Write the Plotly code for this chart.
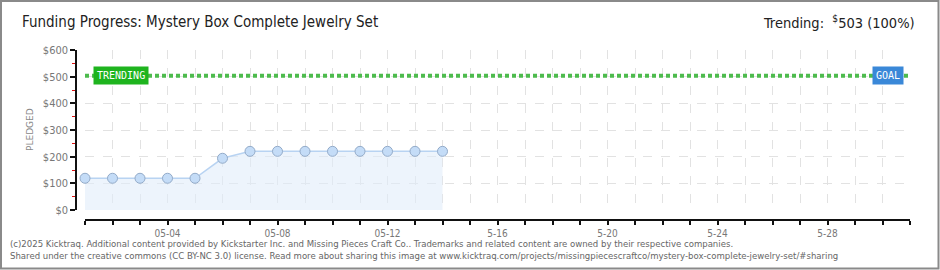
import plotly.graph_objects as go

# ---- data ----
dates = ["2025-05-01", "2025-05-02", "2025-05-03", "2025-05-04", "2025-05-05",
         "2025-05-06", "2025-05-07", "2025-05-08", "2025-05-09", "2025-05-10",
         "2025-05-11", "2025-05-12", "2025-05-13", "2025-05-14"]
pledged = [119, 119, 119, 119, 119, 194, 220, 220, 220, 220, 220, 220, 220, 220]

goal_dates = ["2025-05-01", "2025-05-31"]
goal_values = [503, 503]

tick_dates = ["2025-05-04", "2025-05-08", "2025-05-12", "2025-05-16",
              "2025-05-20", "2025-05-24", "2025-05-28"]
tick_labels = ["05-04", "05-08", "05-12", "5-16", "5-20", "5-24", "5-28"]

y_ticks = [0, 100, 200, 300, 400, 500, 600]
y_labels = ["$0", "$100", "$200", "$300", "$400", "$500", "$600"]

title_text = "Funding Progress: Mystery Box Complete Jewelry Set"
trend_text = "Trending:  <sup>$</sup>503 (100%)"
footer1 = ("(c)2025 Kicktraq. Additional content provided by Kickstarter Inc. and Missing Pieces Craft Co.. "
           "Trademarks and related content are owned by their respective companies.")
footer2 = ("Shared under the creative commons (CC BY-NC 3.0) license. Read more about sharing this image at "
           "www.kicktraq.com/projects/missingpiecescraftco/mystery-box-complete-jewelry-set/#sharing")

# ---- geometry helpers (pixel -> paper) ----
W, H = 940, 270
L, R, T, B = 76, 30, 50, 50
PW, PH = W - L - R, H - T - B


def px(x):
    return (x - L) / PW


def py(y):
    return (H - B - y) / PH


FONT = "DejaVu Sans Condensed, DejaVu Sans, sans-serif"
GRID = "#e2e2e2"

fig = go.Figure()

fig.add_trace(go.Scatter(
    x=dates, y=pledged, mode="lines+markers",
    fill="tozeroy", fillcolor="rgba(225,236,250,0.6)",
    line=dict(color="#b8d3f2", width=1.5),
    marker=dict(size=10, color="#c4dcf7", line=dict(color="#93abc9", width=1)),
    cliponaxis=False, hoverinfo="skip", showlegend=False,
))

fig.add_trace(go.Scatter(
    x=goal_dates, y=goal_values, mode="lines",
    line=dict(color="#4dbb4d", width=4, dash="4px,3px"),
    hoverinfo="skip", showlegend=False, cliponaxis=False,
))

fig.update_layout(
    width=W, height=H,
    margin=dict(l=L, r=R, t=T, b=B),
    paper_bgcolor="white", plot_bgcolor="white",
    font=dict(family=FONT, color="#777"),
    xaxis=dict(
        type="date",
        domain=[9 / PW, 1],
        range=["2025-05-01", "2025-05-31"],
        anchor="free", position=0,
        showline=True, linecolor="#111", linewidth=1.5,
        tickvals=tick_dates, ticktext=tick_labels,
        ticks="outside", ticklen=4, tickcolor="#111", tickwidth=1.5,
        tickfont=dict(size=10, color="#777", family=FONT),
        showgrid=True, gridcolor=GRID, griddash="dash", gridwidth=1,
        minor=dict(tick0="2025-05-01", dtick=86400000, ticks="outside", ticklen=4,
                   tickcolor="#111", tickwidth=1.5,
                   showgrid=True, gridcolor=GRID, griddash="dash", gridwidth=1),
        zeroline=False, fixedrange=True,
    ),
    yaxis=dict(
        domain=[10 / PH, 1],
        range=[0, 600],
        anchor="free", position=0,
        showline=True, linecolor="#111", linewidth=1.5,
        tickvals=y_ticks, ticktext=y_labels,
        ticks="outside", ticklen=5, tickcolor="#111", tickwidth=1.5,
        tickfont=dict(size=11, color="#777", family=FONT),
        showgrid=True, gridcolor=GRID, griddash="dash", gridwidth=1,
        minor=dict(tick0=50, dtick=100, ticks="outside", ticklen=3,
                   tickcolor="#e01010", tickwidth=1, showgrid=False),
        zeroline=False, fixedrange=True,
    ),
)

FOOT_FONT = FONT
ann = []
ann.append(dict(text=title_text, xref="paper", yref="paper", x=px(20), y=py(22),
                xanchor="left", yanchor="middle", showarrow=False,
                font=dict(size=15, color="#222", family=FONT)))
ann.append(dict(text=trend_text, xref="paper", yref="paper", x=px(917), y=py(22),
                xanchor="right", yanchor="middle", showarrow=False,
                font=dict(size=14.5, color="#222", family=FONT)))
ann.append(dict(text="PLEDGED", xref="paper", yref="paper", x=px(30), y=py(130),
                xanchor="center", yanchor="middle", textangle=-90, showarrow=False,
                font=dict(size=9, color="#888", family="DejaVu Sans")))
ann.append(dict(text=footer1, xref="paper", yref="paper", x=px(8), y=py(243),
                xanchor="left", yanchor="middle", showarrow=False,
                font=dict(size=9.5, color="#666", family=FOOT_FONT)))
ann.append(dict(text=footer2, xref="paper", yref="paper", x=px(8), y=py(256),
                xanchor="left", yanchor="middle", showarrow=False,
                font=dict(size=9.5, color="#666", family=FOOT_FONT)))
ann.append(dict(text="TRENDING", xref="x", yref="y", x=goal_dates[0], y=goal_values[0],
                xanchor="left", yanchor="middle", xshift=8, showarrow=False,
                bgcolor="#1eb41e", borderpad=3,
                font=dict(size=10, color="white", family="DejaVu Sans Mono")))
ann.append(dict(text="GOAL", xref="x", yref="y", x=goal_dates[1], y=goal_values[1],
                xanchor="right", yanchor="middle", xshift=-6, showarrow=False,
                bgcolor="#3a88d8", borderpad=3,
                font=dict(size=10, color="white", family="DejaVu Sans Mono")))
fig.update_layout(annotations=ann)

fig.add_shape(type="rect", xref="paper", yref="paper",
              x0=px(1), x1=px(938.5), y0=py(268.5), y1=py(1),
              line=dict(color="#8a8a8a", width=2), fillcolor="rgba(0,0,0,0)", layer="above")

fig.write_html("out.html")
